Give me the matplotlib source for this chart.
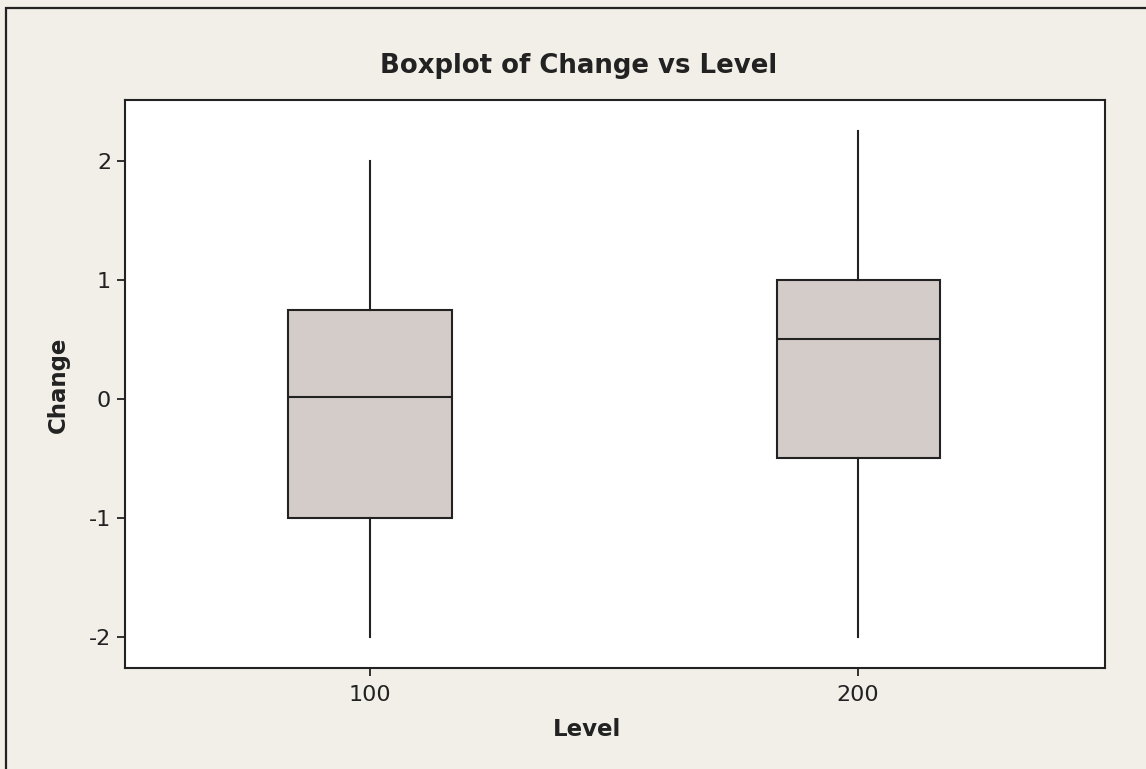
import matplotlib
matplotlib.use("Agg")
import matplotlib.pyplot as plt
from matplotlib.patches import Rectangle

# Summary statistics for each level
levels = [100, 200]
q1 = [-1.0, -0.5]
medians = [0.02, 0.5]
q3 = [0.75, 1.0]
whisker_low = [-2.0, -2.0]
whisker_high = [2.0, 2.25]

tick_labels = ["100", "200"]
y_ticks = [-2, -1, 0, 1, 2]

bg = "#F2EFE8"
box_fill = "#D3CCC9"
ink = "#222222"

fig = plt.figure(figsize=(11.46, 7.69), dpi=100, facecolor=bg)
ax = fig.add_axes([125 / 1146, 1 - 668 / 769, 980 / 1146, 568 / 769])
ax.set_facecolor("white")

stats = []
for i in range(len(levels)):
    stats.append(dict(q1=q1[i], med=medians[i], q3=q3[i],
                      whislo=whisker_low[i], whishi=whisker_high[i],
                      fliers=[], label=tick_labels[i]))

ax.bxp(stats, positions=levels, widths=33.4, patch_artist=True,
       showcaps=False, showfliers=False,
       boxprops=dict(facecolor=box_fill, edgecolor=ink, linewidth=1.5),
       medianprops=dict(color=ink, linewidth=1.5),
       whiskerprops=dict(color=ink, linewidth=1.5))

ax.set_xlim(49.8, 250.6)
ax.set_ylim(-2.26, 2.51)
ax.set_xticks(levels)
ax.set_xticklabels(tick_labels)
ax.set_yticks(y_ticks)
ax.set_yticklabels([str(t) for t in y_ticks])

for s in ax.spines.values():
    s.set_color(ink)
    s.set_linewidth(1.5)
ax.tick_params(axis="both", direction="out", length=6, width=1.3,
               color=ink, labelcolor=ink, labelsize=16)
ax.tick_params(axis="x", pad=6)
ax.tick_params(axis="y", pad=4)

fig.text(579 / 1146, 1 - 66 / 769, "Boxplot of Change vs Level",
         ha="center", va="center", fontsize=18.7, fontweight="bold", color=ink)
fig.text(587 / 1146, 1 - 730 / 769, "Level",
         ha="center", va="center", fontsize=16.5, fontweight="bold", color=ink)
fig.text(58 / 1146, 1 - 385 / 769, "Change", rotation=90,
         ha="center", va="center", fontsize=16.5, fontweight="bold", color=ink)

# Frame around the whole figure
fig.patches.append(Rectangle((6 / 1146, -0.1), 1.2, 1 - 8 / 769 + 0.1,
                             transform=fig.transFigure, fill=False,
                             edgecolor=ink, linewidth=1.6))

fig.savefig("out.png", dpi=100, facecolor=bg)
